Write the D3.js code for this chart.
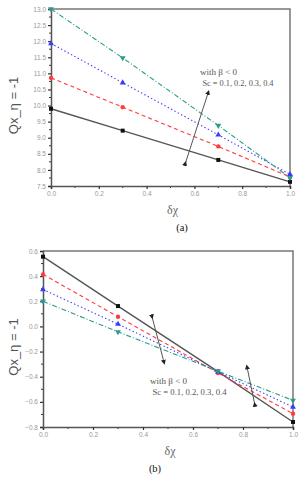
<!DOCTYPE html>
<html>
<head>
<meta charset="utf-8">
<script src="https://cdn.jsdelivr.net/npm/d3@7"></script>
<style>
  body { margin: 0; background: #fff; }
  svg { display: block; }
  .tick text { fill: #999; font-family: Arial, "Liberation Sans", sans-serif; font-size: 6.5px; }
</style>
</head>
<body>
<svg id="chart" width="303" height="480"></svg>
<script>
// ---- data ----
var xValues = [0.0, 0.3, 0.7, 1.0];
var scLabels = ["Sc = 0.1", "Sc = 0.2", "Sc = 0.3", "Sc = 0.4"];

// panel (a)
var aSc1 = [9.90, 9.22, 8.31, 7.63];
var aSc2 = [10.86, 9.95, 8.73, 7.78];
var aSc3 = [11.93, 10.71, 9.09, 7.86];
var aSc4 = [13.00, 11.48, 9.38, 7.76];
var aYTicks = [7.5, 8.0, 8.5, 9.0, 9.5, 10.0, 10.5, 11.0, 11.5, 12.0, 12.5, 13.0];
var aArrow = [[0.562, 8.20], [0.658, 10.41]];

// panel (b)
var bSc1 = [0.555, 0.162, -0.360, -0.760];
var bSc2 = [0.414, 0.077, -0.370, -0.694];
var bSc3 = [0.294, 0.018, -0.362, -0.641];
var bSc4 = [0.200, -0.043, -0.356, -0.588];
var bYTicks = [-0.8, -0.6, -0.4, -0.2, 0.0, 0.2, 0.4, 0.6];
var bArrows = [[[0.436, 0.077], [0.484, -0.285]], [[0.847, -0.620], [0.816, -0.322]]];

var xTicks = [0.0, 0.2, 0.4, 0.6, 0.8, 1.0];

var styles = [
  {color: "#555555", dash: null, width: 1.4, symbol: d3.symbolSquare},
  {color: "#ff3b3b", dash: "4,3", width: 1.1, symbol: d3.symbolCircle},
  {color: "#3b3bff", dash: "1.4,2.4", width: 1.1, symbol: d3.symbolTriangle},
  {color: "#2b9c8c", dash: "5,2,1,2", width: 1.1, symbol: "down"}
];

var svg = d3.select("#chart");

svg.append("defs").append("marker")
  .attr("id", "tri")
  .attr("viewBox", "0 0 10 10")
  .attr("refX", 5).attr("refY", 5)
  .attr("markerWidth", 5).attr("markerHeight", 5)
  .attr("markerUnits", "userSpaceOnUse")
  .attr("orient", "auto")
  .append("path")
  .attr("d", "M0,0L10,5L0,10Z")
  .attr("fill", "#222");

function drawPanel(p) {
  var g = svg.append("g");
  var x = d3.scaleLinear().domain([0, 1]).range([p.left, p.right]);
  var y = d3.scaleLinear().domain(p.yDomain).range([p.bottom, p.top]);

  // frame (top + right)
  g.append("path")
    .attr("d", "M" + p.left + "," + p.top + "H" + p.right + "V" + p.bottom)
    .attr("fill", "none").attr("stroke", "#777").attr("stroke-width", 1.5);

  // minor ticks
  var xMinor = d3.range(0.1, 1, 0.2);
  g.selectAll(".xminor").data(xMinor).enter().append("line")
    .attr("x1", d => x(d)).attr("x2", d => x(d))
    .attr("y1", p.bottom).attr("y2", p.bottom + 2)
    .attr("stroke", "#333").attr("stroke-width", 1);
  var yStep = p.yTicks[1] - p.yTicks[0];
  var yMinor = p.yTicks.slice(0, -1).map(d => d + yStep / 2);
  g.selectAll(".yminor").data(yMinor).enter().append("line")
    .attr("x1", p.left - 2).attr("x2", p.left)
    .attr("y1", d => y(d)).attr("y2", d => y(d))
    .attr("stroke", "#333").attr("stroke-width", 1);

  var xAxis = g.append("g")
    .attr("transform", "translate(0," + p.bottom + ")")
    .call(d3.axisBottom(x).tickValues(xTicks).tickFormat(d3.format(".1f")).tickSize(3).tickPadding(2));
  var yAxis = g.append("g")
    .attr("transform", "translate(" + p.left + ",0)")
    .call(d3.axisLeft(y).tickValues(p.yTicks).tickFormat(d3.format(p.fmt)).tickSize(3).tickPadding(2));
  [xAxis, yAxis].forEach(function (a) {
    a.select(".domain").attr("stroke", "#555").attr("stroke-width", 1.5);
    a.selectAll(".tick line").attr("stroke", "#333").attr("stroke-width", 1.2);
  });

  // series lines
  var line = d3.line().x((d, i) => x(xValues[i])).y(d => y(d));
  p.series.forEach(function (s, k) {
    var st = styles[k];
    g.append("path")
      .datum(s)
      .attr("d", line)
      .attr("fill", "none")
      .attr("stroke", st.color)
      .attr("stroke-width", st.width)
      .attr("stroke-dasharray", st.dash);
  });
  p.series.forEach(function (s, k) {
    var st = styles[k];
    var down = st.symbol === "down";
    var sym = d3.symbol().type(down ? d3.symbolTriangle : st.symbol).size(k === 0 ? 16 : 15);
    g.selectAll(".m" + k).data(s).enter().append("path")
      .attr("d", sym)
      .attr("transform", (d, i) => "translate(" + x(xValues[i]) + "," + y(d) + ")" + (down ? " rotate(180)" : ""))
      .attr("fill", k === 0 ? "#111" : st.color);
  });

  // arrows
  p.arrows.forEach(function (a) {
    g.append("line")
      .attr("x1", x(a[0][0])).attr("y1", y(a[0][1]))
      .attr("x2", x(a[1][0])).attr("y2", y(a[1][1]))
      .attr("stroke", "#555").attr("stroke-width", 1)
      .attr("marker-start", "url(#tri)")
      .attr("marker-end", "url(#tri)");
  });

  // annotation
  var note = g.append("text")
    .attr("font-family", "'Liberation Serif', 'DejaVu Serif', serif")
    .attr("font-size", 8).attr("fill", "#555");
  note.append("tspan").attr("x", p.noteX).attr("y", p.noteY)
    .attr("textLength", 37).attr("lengthAdjust", "spacingAndGlyphs")
    .text("with \u03B2 < 0");
  note.append("tspan").attr("x", p.noteX + 2.5).attr("y", p.noteY + 11)
    .attr("textLength", p.noteW).attr("lengthAdjust", "spacingAndGlyphs")
    .text("Sc = 0.1, 0.2, 0.3, 0.4");

  // axis labels
  g.append("text")
    .attr("transform", "translate(" + 18 + "," + ((p.top + p.bottom) / 2 + 8) + ") rotate(-90)")
    .attr("text-anchor", "middle")
    .attr("font-family", "Arial, 'Liberation Sans', sans-serif")
    .attr("font-size", 13).attr("fill", "#555")
    .text("Qx_\u03B7 = -1");
  g.append("text")
    .attr("x", (p.left + p.right) / 2 + 2).attr("y", p.bottom + 28)
    .attr("text-anchor", "middle")
    .attr("font-family", "'Liberation Serif', serif")
    .attr("font-size", 12).attr("fill", "#666")
    .text("\u03B4\u03C7");
  g.append("text")
    .attr("x", p.capX).attr("y", p.bottom + 45)
    .attr("text-anchor", "middle")
    .attr("font-family", "'Liberation Serif', serif")
    .attr("font-size", 10.5).attr("fill", "#111")
    .text(p.caption);
}

drawPanel({
  left: 51, right: 290, top: 9, bottom: 186,
  yDomain: [7.5, 13.0], yTicks: aYTicks, fmt: ".1f",
  series: [aSc1, aSc2, aSc3, aSc4],
  arrows: [aArrow],
  noteX: 200, noteY: 75, noteW: 71,
  capX: 182, caption: "(a)"
});

drawPanel({
  left: 43, right: 293, top: 251, bottom: 427,
  yDomain: [-0.8, 0.6], yTicks: bYTicks, fmt: ".1f",
  series: [bSc1, bSc2, bSc3, bSc4],
  arrows: bArrows,
  noteX: 150, noteY: 384, noteW: 74,
  capX: 155, caption: "(b)"
});
</script>
</body>
</html>
